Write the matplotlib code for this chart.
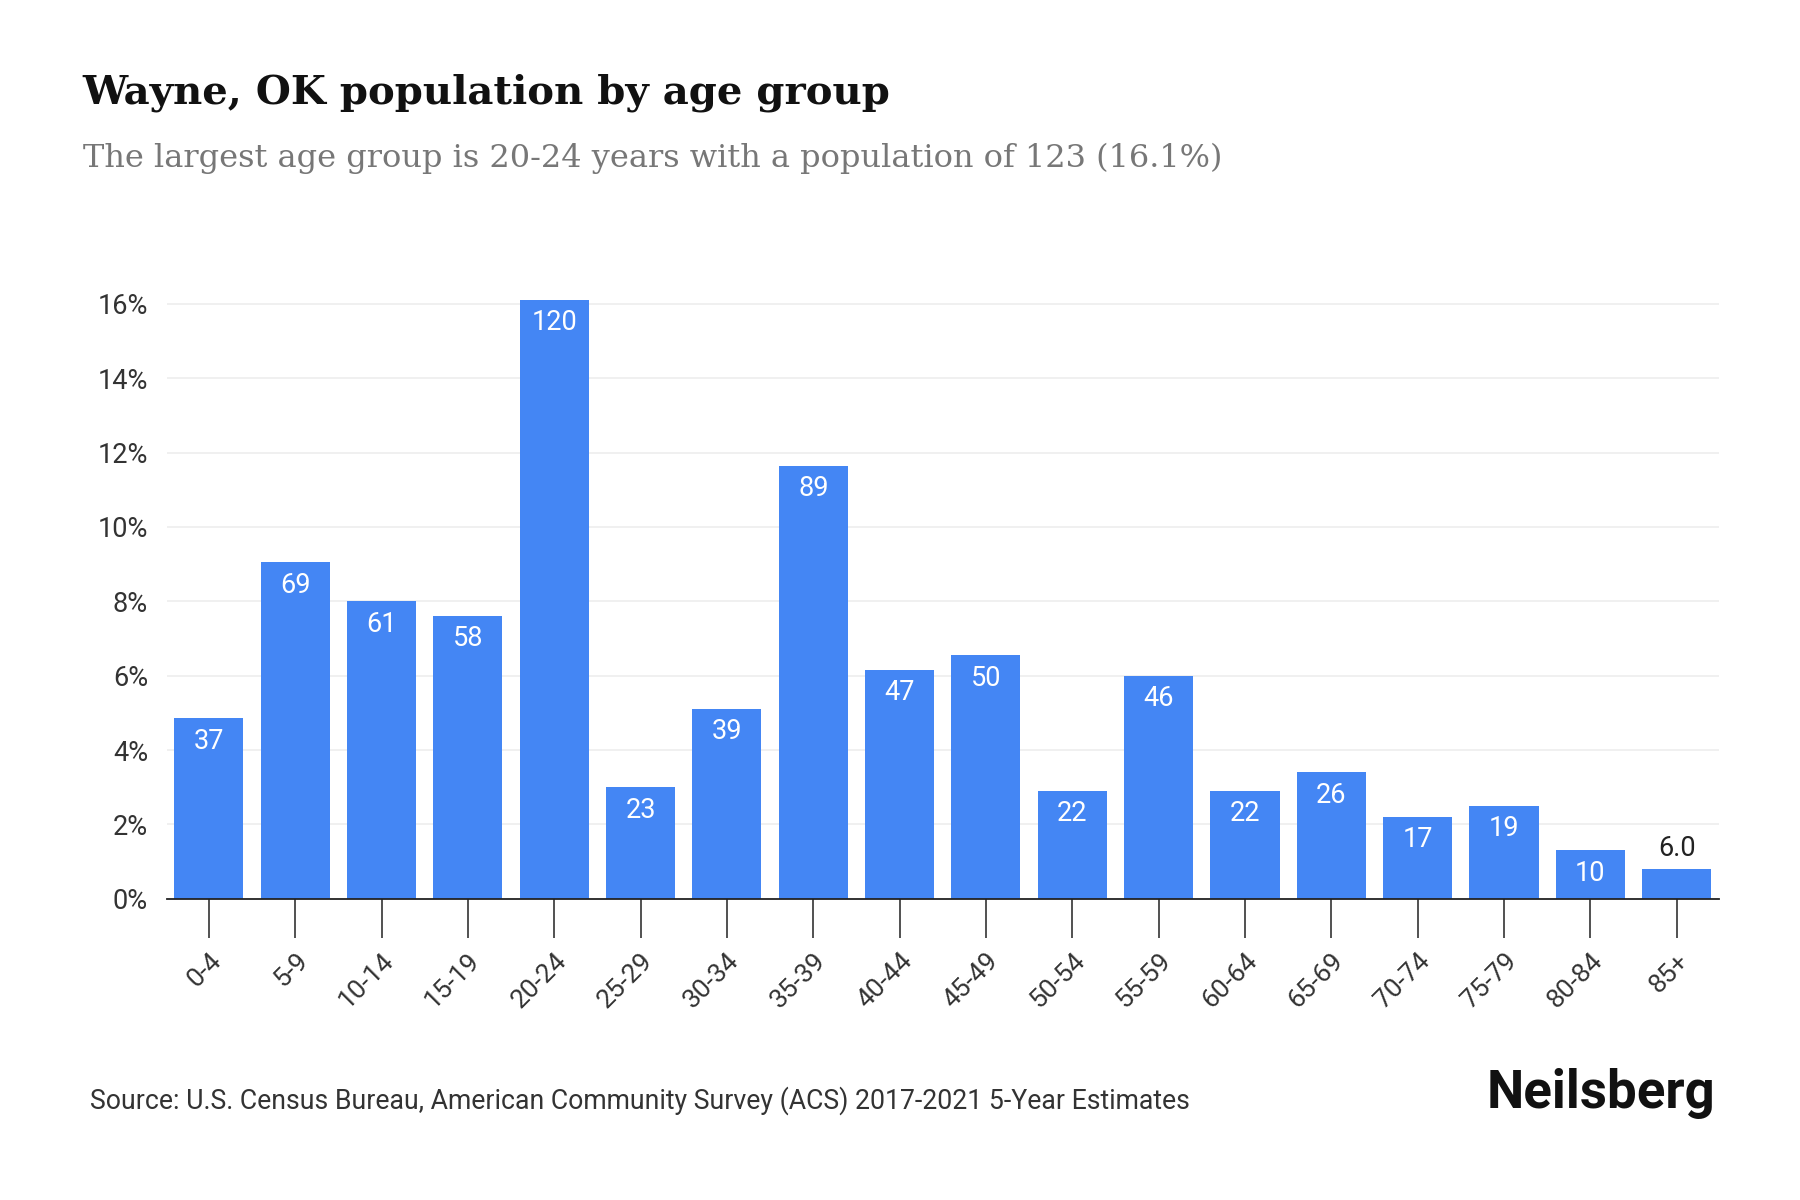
import matplotlib.pyplot as plt
from matplotlib.ticker import FuncFormatter

# Data
age_groups = ['0-4', '5-9', '10-14', '15-19', '20-24', '25-29', '30-34', '35-39',
              '40-44', '45-49', '50-54', '55-59', '60-64', '65-69', '70-74',
              '75-79', '80-84', '85+']
share_pct = [4.85, 9.05, 8.0, 7.6, 16.1, 3.0, 5.1, 11.65,
             6.15, 6.55, 2.9, 6.0, 2.9, 3.4, 2.2, 2.5, 1.3, 0.8]
counts = ['37', '69', '61', '58', '120', '23', '39', '89',
          '47', '50', '22', '46', '22', '26', '17', '19', '10', '6.0']

BAR_COLOR = '#4486F4'

fig = plt.figure(figsize=(18, 12), dpi=100)
ax = fig.add_axes([0.093, 0.251, 0.862, 0.502])

x = range(len(age_groups))
bars = ax.bar(x, share_pct, width=0.8, color=BAR_COLOR, zorder=2)

# Value labels
for xi, v, lab in zip(x, share_pct, counts):
    if v > 1.0:
        ax.text(xi, v - 0.25, lab, ha='center', va='top', color='white',
                fontsize=19.5, family='Roboto')
    else:
        ax.text(xi, v + 0.2, lab, ha='center', va='bottom', color='#222222',
                fontsize=19.5, family='Roboto')

ax.set_xlim(-0.48, len(age_groups) - 0.51)
ax.set_ylim(0, 16.2)
ax.set_yticks(range(0, 17, 2))
ax.yaxis.set_major_formatter(FuncFormatter(lambda v, p: f'{int(v)}%'))
ax.set_xticks(list(x))
ax.set_xticklabels(age_groups, rotation=45, ha='right', rotation_mode='anchor',
                   family='Roboto', fontsize=19, color='#333333')
for lbl in ax.get_yticklabels():
    lbl.set_family('Roboto')
    lbl.set_fontsize(19.5)
    lbl.set_color('#333333')

ax.grid(axis='y', color='#eeeeee', linewidth=1.2, zorder=0)
ax.tick_params(axis='y', length=0, pad=14)
ax.tick_params(axis='x', length=28, width=1.2, color='#333333', pad=8, direction='out')
for side in ['top', 'right', 'left']:
    ax.spines[side].set_visible(False)
ax.spines['bottom'].set_color('#222222')
ax.spines['bottom'].set_linewidth(1.3)
ax.spines['bottom'].set_zorder(3)

# Titles
fig.text(0.046, 0.923, 'Wayne, OK population by age group', fontsize=29,
         fontweight='bold', family='DejaVu Serif', color='#111111', va='center')
fig.text(0.046, 0.868, 'The largest age group is 20-24 years with a population of 123 (16.1%)',
         fontsize=23, family='DejaVu Serif', color='#777777', va='center')

# Footer
fig.text(0.05, 0.083, 'Source: U.S. Census Bureau, American Community Survey (ACS) 2017-2021 5-Year Estimates',
         fontsize=19.2, family='Roboto', color='#333333', va='center')
fig.text(0.953, 0.089, 'Neilsberg', fontsize=38, fontweight='bold', family='Roboto',
         color='#111111', ha='right', va='center')

plt.savefig('out.png', dpi=100)
